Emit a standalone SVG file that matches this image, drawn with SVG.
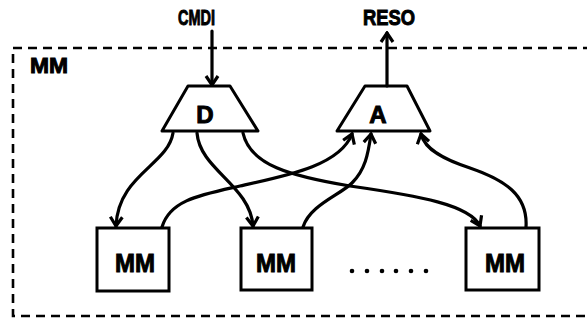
<svg xmlns="http://www.w3.org/2000/svg" width="587" height="320" viewBox="0 0 587 320">
<style>
.t{font-family:"Liberation Sans",Arial,sans-serif;font-weight:bold;fill:#000;stroke:#000;stroke-width:1;text-anchor:middle}
.s{fill:none;stroke:#000;stroke-width:3;stroke-linejoin:round}
.b{fill:#fff;stroke:#000;stroke-width:3}
.c{fill:none;stroke:#000;stroke-width:3.2;stroke-linecap:round}
.d{fill:none;stroke:#000;stroke-width:2.6;stroke-dasharray:9 6}
</style>
<defs>
<marker id="ah" viewBox="-11 -8 13 16" refX="0" refY="0" markerWidth="13" markerHeight="16" markerUnits="userSpaceOnUse" orient="auto">
<path d="M-9,-6 L0,0 L-9,6" fill="none" stroke="#000" stroke-width="3.2" stroke-linejoin="miter"/>
</marker>
</defs>
<rect width="587" height="320" fill="#fff"/>
<g id="container">
<path class="d" d="M592,48 L13,48 L13,316 L592,316"/>
<text class="t" x="49" y="73" font-size="22" textLength="38" lengthAdjust="spacingAndGlyphs">MM</text>
</g>
<g id="cmdi"><text class="t" x="196.5" y="25" font-size="22" textLength="37" lengthAdjust="spacingAndGlyphs">CMDI</text></g>
<g id="reso"><text class="t" x="389" y="25" font-size="22" textLength="52" lengthAdjust="spacingAndGlyphs">RESO</text></g>
<g id="D">
<polygon class="s" points="188,86 230,86 258,131 162,131" fill="#fff"/>
<text class="t" x="205" y="123" font-size="24">D</text>
</g>
<g id="A">
<polygon class="s" points="365,86 407,86 430,131 337,131" fill="#fff"/>
<text class="t" x="378" y="123" font-size="24">A</text>
</g>
<g id="mm1">
<rect class="b" x="97" y="228" width="72" height="63"/>
<text class="t" x="135" y="272" font-size="26" textLength="40" lengthAdjust="spacingAndGlyphs">MM</text>
</g>
<g id="mm2">
<rect class="b" x="241" y="228" width="71" height="62"/>
<text class="t" x="276" y="272" font-size="26" textLength="40" lengthAdjust="spacingAndGlyphs">MM</text>
</g>
<g id="mm3">
<rect class="b" x="466" y="228" width="73" height="62"/>
<text class="t" x="505" y="272" font-size="26" textLength="40" lengthAdjust="spacingAndGlyphs">MM</text>
</g>
<g id="dots" fill="#000">
<circle cx="352" cy="271" r="2.3"/><circle cx="367" cy="271" r="2.3"/><circle cx="382" cy="271" r="2.3"/><circle cx="396" cy="271" r="2.3"/><circle cx="411" cy="271" r="2.3"/><circle cx="426" cy="271" r="2.3"/>
</g>
<g id="connectors">
<path class="c" d="M212,31 L212,85" marker-end="url(#ah)"/>
<path class="c" d="M387,86 L387,33" marker-end="url(#ah)"/>
<path class="c" d="M173,133 C168,165 118,175 116,226" marker-end="url(#ah)"/>
<path class="c" d="M197,133 C200,170 250,185 253,226" marker-end="url(#ah)"/>
<path class="c" d="M243,133 C250,165 290,176 350,186 C420,196 470,205 480,226" marker-end="url(#ah)"/>
<path class="c" d="M162,227 C170,200 200,195 240,186 C290,175 340,165 352,134" marker-end="url(#ah)"/>
<path class="c" d="M303,227 C310,205 340,195 352,183 C365,170 368,155 371,134" marker-end="url(#ah)"/>
<path class="c" d="M526,227 C528,195 505,180 470,168 C445,160 425,150 421,134" marker-end="url(#ah)"/>
</g>
</svg>
